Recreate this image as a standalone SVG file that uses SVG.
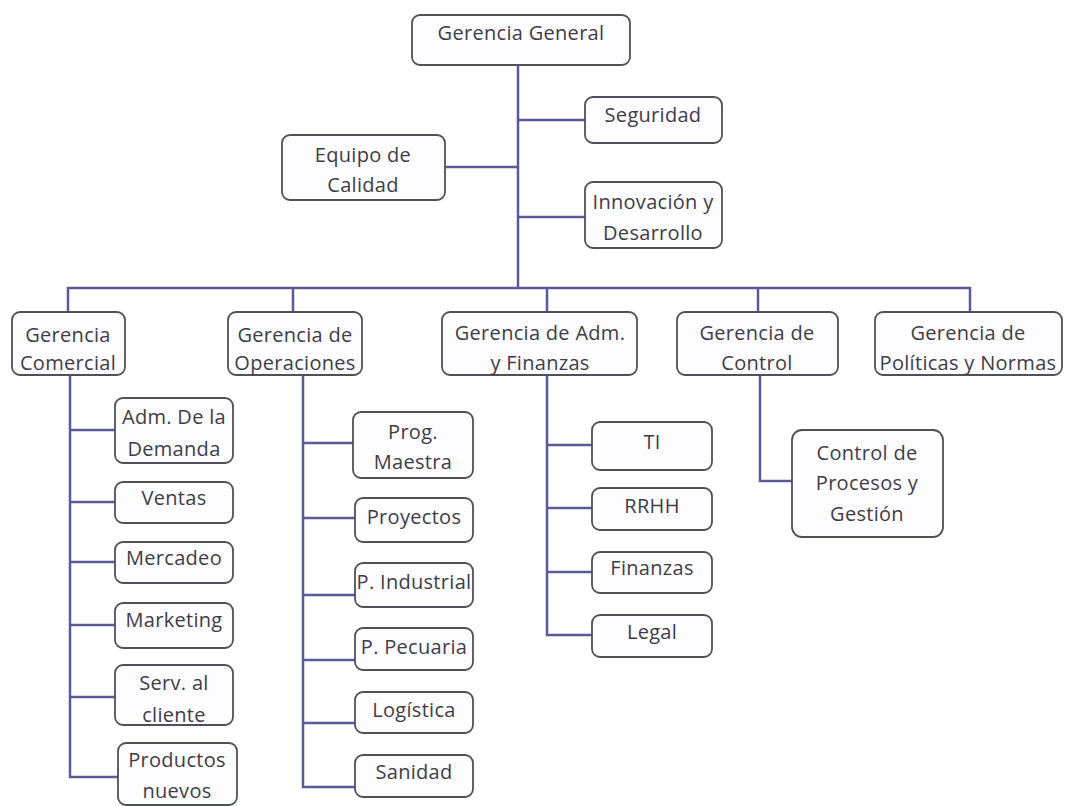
<svg xmlns="http://www.w3.org/2000/svg" width="1075" height="806" viewBox="0 0 1075 806">
<style>
.box{fill:#fdfcfe;stroke:#505058;stroke-width:1.8}
.t{font-family:"Open Sans","Liberation Sans",sans-serif;font-size:20px;letter-spacing:0.3px;fill:#3e3c4a;text-anchor:middle}
.c{fill:none;stroke:#5a5a96;stroke-width:2.5}
</style>
<rect width="1075" height="806" fill="#ffffff"/>
<g id="connectors">
<path class="c" d="M518 65V288M518 120H585M445 167H518M518 217H585"/>
<path class="c" d="M68 312V288H970V312M293 288V312M547 288V312M758 288V312"/>
<path class="c" d="M70 375V777H118M70 430H115M70 502H115M70 562H115M70 625H115M70 697H115"/>
<path class="c" d="M303 375V787H355M303 443H353M303 518H355M303 595H355M303 660H355M303 723H355"/>
<path class="c" d="M547 375V635H592M547 445H592M547 508H592M547 572H592"/>
<path class="c" d="M760 375V481H792"/>
</g>
<g id="gerencia-general"><rect class="box" x="412" y="15" width="218" height="50" rx="8"/><text class="t" x="521" y="40">Gerencia General</text></g>
<g id="seguridad"><rect class="box" x="585" y="97" width="137" height="46" rx="8"/><text class="t" x="653" y="122">Seguridad</text></g>
<g id="equipo-calidad"><rect class="box" x="282" y="135" width="163" height="65" rx="8"/><text class="t" x="363" y="162">Equipo de</text><text class="t" x="363" y="192">Calidad</text></g>
<g id="innovacion"><rect class="box" x="585" y="182" width="137" height="66" rx="8"/><text class="t" x="653" y="209">Innovación y</text><text class="t" x="653" y="240">Desarrollo</text></g>
<g id="g-comercial"><rect class="box" x="12" y="312" width="113" height="63" rx="8"/><text class="t" x="68" y="342">Gerencia</text><text class="t" x="68" y="370">Comercial</text></g>
<g id="g-operaciones"><rect class="box" x="228" y="312" width="134" height="63" rx="8"/><text class="t" x="295" y="342">Gerencia de</text><text class="t" x="295" y="370">Operaciones</text></g>
<g id="g-adm-finanzas"><rect class="box" x="442" y="312" width="195" height="63" rx="8"/><text class="t" x="540" y="340">Gerencia de Adm.</text><text class="t" x="540" y="370">y Finanzas</text></g>
<g id="g-control"><rect class="box" x="677" y="312" width="161" height="63" rx="8"/><text class="t" x="757" y="340">Gerencia de</text><text class="t" x="757" y="370">Control</text></g>
<g id="g-politicas"><rect class="box" x="875" y="312" width="187" height="63" rx="8"/><text class="t" x="968" y="340">Gerencia de</text><text class="t" x="968" y="370">Políticas y Normas</text></g>
<g id="adm-demanda"><rect class="box" x="115" y="398" width="118" height="65" rx="8"/><text class="t" x="174" y="424">Adm. De la</text><text class="t" x="174" y="456">Demanda</text></g>
<g id="ventas"><rect class="box" x="115" y="482" width="118" height="41" rx="8"/><text class="t" x="174" y="505">Ventas</text></g>
<g id="mercadeo"><rect class="box" x="115" y="542" width="118" height="41" rx="8"/><text class="t" x="174" y="565">Mercadeo</text></g>
<g id="marketing"><rect class="box" x="115" y="603" width="118" height="45" rx="8"/><text class="t" x="174" y="627">Marketing</text></g>
<g id="serv-cliente"><rect class="box" x="115" y="665" width="118" height="60" rx="8"/><text class="t" x="174" y="690">Serv. al</text><text class="t" x="174" y="722">cliente</text></g>
<g id="productos-nuevos"><rect class="box" x="118" y="743" width="119" height="62" rx="8"/><text class="t" x="177" y="767">Productos</text><text class="t" x="177" y="798">nuevos</text></g>
<g id="prog-maestra"><rect class="box" x="353" y="412" width="120" height="66" rx="8"/><text class="t" x="413" y="439">Prog.</text><text class="t" x="413" y="469">Maestra</text></g>
<g id="proyectos"><rect class="box" x="355" y="498" width="118" height="44" rx="8"/><text class="t" x="414" y="524">Proyectos</text></g>
<g id="p-industrial"><rect class="box" x="355" y="563" width="118" height="44" rx="8"/><text class="t" x="414" y="589">P. Industrial</text></g>
<g id="p-pecuaria"><rect class="box" x="355" y="628" width="118" height="42" rx="8"/><text class="t" x="414" y="654">P. Pecuaria</text></g>
<g id="logistica"><rect class="box" x="355" y="692" width="118" height="41" rx="8"/><text class="t" x="414" y="717">Logística</text></g>
<g id="sanidad"><rect class="box" x="355" y="755" width="118" height="42" rx="8"/><text class="t" x="414" y="779">Sanidad</text></g>
<g id="ti"><rect class="box" x="592" y="422" width="120" height="48" rx="8"/><text class="t" x="652" y="449">TI</text></g>
<g id="rrhh"><rect class="box" x="592" y="488" width="120" height="42" rx="8"/><text class="t" x="652" y="513">RRHH</text></g>
<g id="finanzas"><rect class="box" x="592" y="552" width="120" height="41" rx="8"/><text class="t" x="652" y="575">Finanzas</text></g>
<g id="legal"><rect class="box" x="592" y="615" width="120" height="42" rx="8"/><text class="t" x="652" y="639">Legal</text></g>
<g id="control-procesos"><rect class="box" x="792" y="430" width="151" height="107" rx="10"/><text class="t" x="867" y="460">Control de</text><text class="t" x="867" y="490">Procesos y</text><text class="t" x="867" y="521">Gestión</text></g>
</svg>
